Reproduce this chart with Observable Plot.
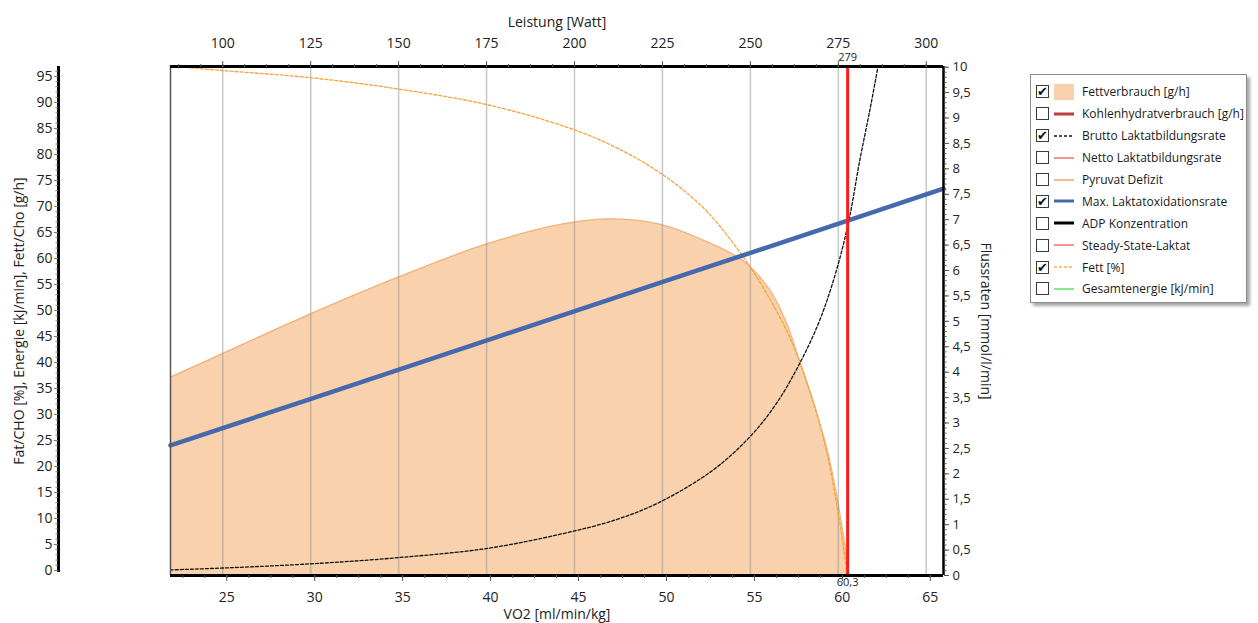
<!DOCTYPE html>
<html>
<head>
<meta charset="utf-8">
<script src="https://cdn.jsdelivr.net/npm/d3@7"></script>
<script src="https://cdn.jsdelivr.net/npm/@observablehq/plot@0.6"></script>
<style>
  body { margin: 0; background: #fff; font-family: "Open Sans", sans-serif; }
  #wrap { position: relative; width: 1258px; height: 623px; overflow: hidden; }
  #legend { position: absolute; left: 1030px; top: 74px; width: 217px; height: 229px; box-sizing: border-box;
            border: 1px solid #8c8c8c; background: #fff; box-shadow: 3px 3px 3px rgba(0,0,0,0.35); padding-top: 6px; }
  .row { height: 21.9px; display: flex; align-items: center; font-size: 12px; color: #1a1a1a; white-space: nowrap; }
  .cb { width: 13px; height: 13px; border: 1px solid #3a3a3a; margin-left: 5px; box-sizing: border-box; position: relative; background: #fff; }
  .cb.on::after { content: "\2714"; position: absolute; left: 0px; top: -4px; font-size: 13px; color: #111; }
  .sym { width: 20px; height: 16px; margin-left: 5px; display: flex; align-items: center; }
  .txt { margin-left: 8px; }
</style>
</head>
<body>
<div id="wrap">
  <div id="chart"></div>
  <div id="legend"></div>
</div>
<script>
// ---------------- data ----------------
// x axis: VO2 [ml/min/kg]
const vo2Domain = [21.8, 65.75];
const vo2Ticks = [25, 30, 35, 40, 45, 50, 55, 60, 65];
// top axis: Leistung [Watt]
const wattTicks = [100, 125, 150, 175, 200, 225, 250, 275, 300];
// left axis
const leftDomain = [-0.96, 96.92];
const leftTicks = [0, 5, 10, 15, 20, 25, 30, 35, 40, 45, 50, 55, 60, 65, 70, 75, 80, 85, 90, 95];
// right axis: Flussraten [mmol/l/min]
const rightTicks = [0, 0.5, 1, 1.5, 2, 2.5, 3, 3.5, 4, 4.5, 5, 5.5, 6, 6.5, 7, 7.5, 8, 8.5, 9, 9.5, 10];

// Fettverbrauch [g/h] (left axis)
const fatVO2 = [21.8, 24.75, 29.8, 34.74, 39.78, 44.2, 47.0, 49.6, 52.05, 54.34, 55.86, 56.8, 57.57, 58.52, 59.29, 59.86, 60.1, 60.3];
const fatGh  = [37.2, 41.7, 49.4, 56.4, 62.8, 66.7, 67.6, 66.6, 63.6, 59.6, 54.0, 47.8, 40.2, 30.5, 21.0, 10.8, 5.8, 0];

// Fett [%] (left axis)
const fettVO2 = [21.8, 24.75, 29.8, 34.74, 39.78, 44.2, 46.92, 49.58, 52.05, 53.96, 55.48, 57.0, 58.14, 59.09, 59.86, 60.24];
const fettPct = [97.0, 96.15, 94.75, 92.6, 89.6, 85.4, 81.7, 76.6, 69.9, 62.2, 54.5, 44.9, 34.6, 23.1, 9.0, 0];

// Brutto Laktatbildungsrate (right axis)
const bruttoVO2 = [21.8, 25, 29.8, 34.7, 39.75, 44.06, 47.15, 49.6, 52.63, 54.72, 56.24, 57.57, 58.71, 59.66, 60.38, 60.99, 61.56, 62.04];
const bruttoRate = [0.11, 0.15, 0.23, 0.35, 0.53, 0.82, 1.10, 1.44, 2.07, 2.72, 3.38, 4.17, 5.02, 6.0, 7.0, 8.17, 9.15, 10.04];

// Max. Laktatoxidationsrate (right axis)
const oxVO2 = [21.8, 30, 40, 50, 60.3, 65.75];
const oxRate = [2.56, 3.5, 4.65, 5.8, 6.98, 7.61];

// Schwelle
const thresholdVO2 = [60.3];
const thresholdWatt = [279];

// legend entries
const legendNames = ["Fettverbrauch [g/h]", "Kohlenhydratverbrauch [g/h]", "Brutto Laktatbildungsrate", "Netto Laktatbildungsrate",
  "Pyruvat Defizit", "Max. Laktatoxidationsrate", "ADP Konzentration", "Steady-State-Laktat", "Fett [%]", "Gesamtenergie [kJ/min]"];
const legendChecked = [true, false, true, false, false, true, false, false, true, false];

// ---------------- helpers ----------------
const W2V = w => 24.77 + (w - 100) / 5;        // watt -> VO2
const V2W = v => 100 + (v - 24.77) * 5;
const R = r => -0.96 + r * 9.775;               // right axis value -> left scale units
const Rinv = v => (v + 0.96) / 9.775;
const fmtR = v => String(Math.round(Rinv(v) * 10) / 10).replace(".", ",");

const fatData = fatVO2.map((x, i) => ({x, y: fatGh[i]}));
const fettData = fettVO2.map((x, i) => ({x, y: fettPct[i]}));
const bruttoData = bruttoVO2.map((x, i) => ({x, y: R(bruttoRate[i])}));
const oxData = oxVO2.map((x, i) => ({x, y: R(oxRate[i])}));

const wattMinor = d3.range(87.5, 305, 6.25).map(W2V);
const vo2Minor = d3.range(22.5, 65.8, 1.25);
const leftMinor = d3.range(0, 97, 1);
const rightMinor = d3.range(0, 100.5, 1).map(d => R(d / 10));

const font = "'Open Sans', sans-serif";

const chart = Plot.plot({
  width: 1258, height: 623,
  marginLeft: 170, marginRight: 315, marginTop: 66, marginBottom: 48,
  style: {fontFamily: font, fontSize: "13px", color: "#222", background: "#fff"},
  x: {domain: vo2Domain, label: null, axis: null},
  y: {domain: leftDomain, label: null, axis: null},
  marks: [
    Plot.areaY(fatData, {x: "x", y1: leftDomain[0], y2: "y", fill: "#f9d2ad", curve: "catmull-rom"}),
    Plot.line(fatData, {x: "x", y: "y", stroke: "#f3b27c", strokeWidth: 1.3, curve: "catmull-rom"}),
    Plot.ruleX(wattTicks.map(W2V), {stroke: "#8f8f8f", strokeOpacity: 0.5, strokeWidth: 1.5}),
    Plot.line(fettData, {x: "x", y: "y", stroke: "#f4a43a", strokeWidth: 1.3, strokeDasharray: "3,2", curve: "catmull-rom"}),
    Plot.line(bruttoData, {x: "x", y: "y", stroke: "#111", strokeWidth: 1.3, strokeDasharray: "3,2", curve: "catmull-rom", clip: true}),
    Plot.line(oxData, {x: "x", y: "y", stroke: "#4668ad", strokeWidth: 4.5}),
    Plot.ruleX(thresholdVO2, {stroke: "#ff1a1a", strokeWidth: 3}),
    // frame
    Plot.ruleX([vo2Domain[0]], {stroke: "#555", strokeWidth: 1.5}),
    Plot.ruleX([vo2Domain[1]], {stroke: "#000", strokeWidth: 2.5}),
    Plot.ruleY([leftDomain[1]], {stroke: "#000", strokeWidth: 3}),
    Plot.ruleY([leftDomain[0]], {stroke: "#000", strokeWidth: 3}),
    // left detached axis line
    Plot.ruleX([vo2Domain[0]], {dx: -112, stroke: "#000", strokeWidth: 3, y1: leftDomain[0], y2: leftDomain[1], insetTop: -3}),
    // top axis (Watt)
    Plot.axisX(wattMinor, {anchor: "top", tickSize: 3, tickFormat: () => "", label: null, stroke: "#555"}),
    Plot.axisX(wattTicks.map(W2V), {anchor: "top", tickSize: 6, tickPadding: 13, fontSize: 14, tickFormat: v => String(Math.round(V2W(v))), label: null, stroke: "#555"}),
    // bottom axis (VO2)
    Plot.axisX(vo2Minor, {anchor: "bottom", tickSize: 3, tickFormat: () => "", label: null, stroke: "#555"}),
    Plot.axisX(vo2Ticks, {anchor: "bottom", tickSize: 6, tickPadding: 11, fontSize: 14, label: null, stroke: "#555"}),
    // left axis
    Plot.axisY(leftMinor, {anchor: "left", dx: -112, tickSize: 2.5, tickFormat: () => "", label: null, stroke: "#777"}),
    Plot.axisY(leftTicks, {anchor: "left", dx: -112, tickSize: 4, tickPadding: 2, fontSize: 14, label: null, stroke: "#777"}),
    // right axis
    Plot.axisY(rightMinor, {anchor: "right", tickSize: 2.5, tickFormat: () => "", label: null, stroke: "#555"}),
    Plot.axisY(rightTicks.map(R), {anchor: "right", tickSize: 5, tickPadding: 4, fontSize: 13, tickFormat: fmtR, label: null, stroke: "#555"}),
    // axis titles
    Plot.text(["Leistung [Watt]"], {frameAnchor: "top", dy: -44, textAnchor: "middle", lineAnchor: "middle", fontSize: 14}),
    Plot.text(["VO2 [ml/min/kg]"], {frameAnchor: "bottom", dy: 39, textAnchor: "middle", lineAnchor: "middle", fontSize: 14}),
    Plot.text(["Fat/CHO [%], Energie [kJ/min], Fett/Cho [g/h]"], {frameAnchor: "left", dx: -151, rotate: -90, textAnchor: "middle", lineAnchor: "middle", fontSize: 14}),
    Plot.text(["Flussraten [mmol/l/min]"], {frameAnchor: "right", dx: 42, rotate: 90, textAnchor: "middle", lineAnchor: "middle", fontSize: 14}),
    // threshold labels
    Plot.text(thresholdWatt, {x: () => thresholdVO2[0], frameAnchor: "top", dy: -9, text: d => String(d), textAnchor: "middle", lineAnchor: "middle", fontSize: 11}),
    Plot.text(thresholdVO2, {x: d => d, frameAnchor: "bottom", dy: 7, text: d => String(d).replace(".", ","), textAnchor: "middle", lineAnchor: "middle", fontSize: 11})
  ]
});
document.getElementById("chart").appendChild(chart);

// ---------------- legend ----------------
const symbols = [
  `<div style="width:20px;height:16px;background:#f9d2ad"></div>`,
  `<svg width="20" height="16"><line x1="0" y1="8" x2="20" y2="8" stroke="#c0393b" stroke-width="3"/></svg>`,
  `<svg width="20" height="16"><line x1="0" y1="8" x2="20" y2="8" stroke="#111" stroke-width="1.3" stroke-dasharray="3,2"/></svg>`,
  `<svg width="20" height="16"><line x1="0" y1="8" x2="20" y2="8" stroke="#f26b6b" stroke-width="1.5"/></svg>`,
  `<svg width="20" height="16"><line x1="0" y1="8" x2="20" y2="8" stroke="#f5a25d" stroke-width="1.5"/></svg>`,
  `<svg width="20" height="16"><line x1="0" y1="8" x2="20" y2="8" stroke="#4668ad" stroke-width="3"/></svg>`,
  `<svg width="20" height="16"><line x1="0" y1="8" x2="20" y2="8" stroke="#000" stroke-width="3"/></svg>`,
  `<svg width="20" height="16"><line x1="0" y1="8" x2="20" y2="8" stroke="#f26b6b" stroke-width="1.5"/></svg>`,
  `<svg width="20" height="16"><line x1="0" y1="8" x2="20" y2="8" stroke="#f4b04a" stroke-width="1.5" stroke-dasharray="3,2"/></svg>`,
  `<svg width="20" height="16"><line x1="0" y1="8" x2="20" y2="8" stroke="#5fe25f" stroke-width="1.5"/></svg>`
];
const legend = document.getElementById("legend");
legend.innerHTML = legendNames.map((name, i) =>
  `<div class="row"><div class="cb${legendChecked[i] ? " on" : ""}"></div><div class="sym">${symbols[i]}</div><div class="txt">${name}</div></div>`
).join("");
</script>
</body>
</html>
